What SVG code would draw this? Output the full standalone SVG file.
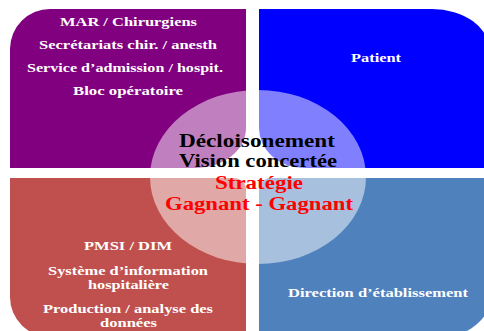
<svg xmlns="http://www.w3.org/2000/svg" width="484" height="331" viewBox="0 0 484 331">
<style>
.q{font-family:"Liberation Serif","Times New Roman",serif;font-weight:bold;font-size:13.5px;fill:#fff;text-anchor:middle}
.c{font-family:"Liberation Serif","Times New Roman",serif;font-weight:bold;font-size:18.5px;text-anchor:middle}
</style>
<rect width="484" height="331" fill="#fff"/>
<g id="q-tl">
<path d="M10,49 A40,40 0 0 1 50,9 H246 V128 A50,40 0 0 1 196,168 H10 Z" fill="#800080"/>
<text class="q" x="128.5" y="26" textLength="137" lengthAdjust="spacingAndGlyphs">MAR / Chirurgiens</text>
<text class="q" x="128" y="49" textLength="178" lengthAdjust="spacingAndGlyphs">Secrétariats chir. / anesth</text>
<text class="q" x="125" y="72" textLength="196" lengthAdjust="spacingAndGlyphs">Service d’admission / hospit.</text>
<text class="q" x="128" y="95" textLength="110" lengthAdjust="spacingAndGlyphs">Bloc opératoire</text>
</g>
<g id="q-tr">
<path d="M259,9 H432 A58,42 0 0 1 490,51 V168 H304 A45,40 0 0 1 259,128 Z" fill="#0000ff"/>
<text class="q" x="376" y="62" textLength="50" lengthAdjust="spacingAndGlyphs">Patient</text>
</g>
<g id="q-bl">
<path d="M10,178 H234 A12,12 0 0 1 246,190 V337 H50 A40,40 0 0 1 10,297 Z" fill="#c0504d"/>
<text class="q" x="128" y="250" textLength="88" lengthAdjust="spacingAndGlyphs">PMSI / DIM</text>
<text class="q" x="128" y="275" textLength="160" lengthAdjust="spacingAndGlyphs">Système d’information</text>
<text class="q" x="128.5" y="289" textLength="81" lengthAdjust="spacingAndGlyphs">hospitalière</text>
<text class="q" x="128" y="313" textLength="170" lengthAdjust="spacingAndGlyphs">Production / analyse des</text>
<text class="q" x="128.5" y="327" textLength="57" lengthAdjust="spacingAndGlyphs">données</text>
</g>
<g id="q-br">
<path d="M259,190 A12,12 0 0 1 271,178 H492 V292 A50,45 0 0 1 442,337 H259 Z" fill="#4f81bd"/>
<text class="q" x="378" y="297" textLength="180" lengthAdjust="spacingAndGlyphs">Direction d’établissement</text>
</g>
<g id="center">
<ellipse cx="258" cy="177" rx="108" ry="87" fill="#fff" fill-opacity="0.5"/>
<text class="c" x="257" y="147" fill="#000" textLength="156" lengthAdjust="spacingAndGlyphs">Décloisonement</text>
<text class="c" x="258" y="167" fill="#000" textLength="158" lengthAdjust="spacingAndGlyphs">Vision concertée</text>
<text class="c" x="259" y="189" fill="#ff0000" textLength="88" lengthAdjust="spacingAndGlyphs">Stratégie</text>
<text class="c" x="259" y="210" fill="#ff0000" textLength="188" lengthAdjust="spacingAndGlyphs">Gagnant - Gagnant</text>
</g>
</svg>
